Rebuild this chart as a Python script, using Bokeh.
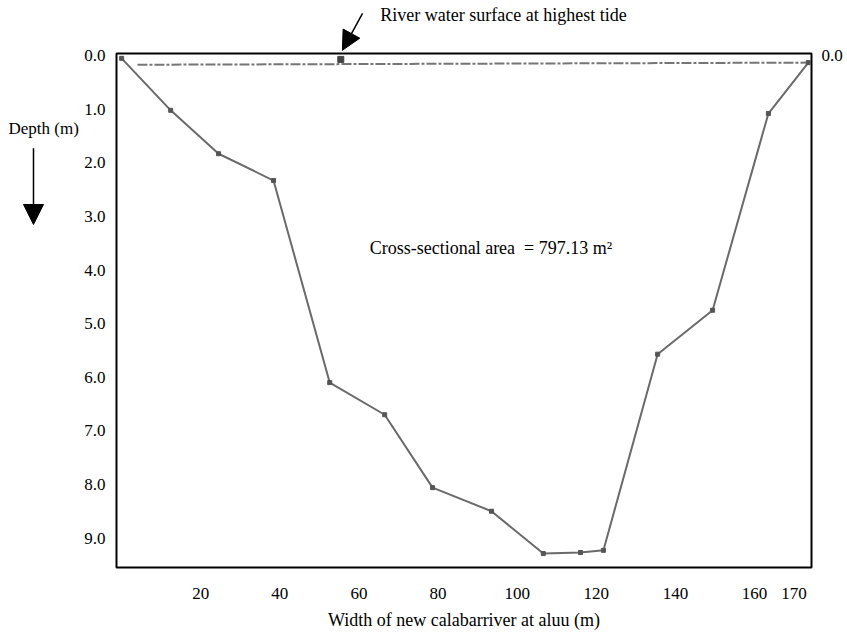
from bokeh.plotting import figure
from bokeh.layouts import row
from bokeh.models import (Range1d, LinearAxis, FixedTicker, Label, Arrow,
                          NormalHead, PrintfTickFormatter, ColumnDataSource)
from bokeh.embed import file_html
from bokeh.resources import INLINE

# ---- data ----
width_m = [0.0, 12.4, 24.5, 38.4, 52.6, 66.5, 78.6, 93.5, 106.6, 116.0, 121.8, 135.5, 149.4, 163.5, 173.6]
depth_m = [0.05, 1.02, 1.83, 2.33, 6.10, 6.70, 8.06, 8.50, 9.29, 9.27, 9.23, 5.57, 4.75, 1.08, 0.13]

surface_width = [4.0, 173.6]
surface_depth = [0.17, 0.13]

gauge_width = [55.4]
gauge_depth = [0.07]

x_ticks = [20, 40, 60, 80, 100, 120, 140, 160, 170]
y_ticks = [0, 1, 2, 3, 4, 5, 6, 7, 8, 9]
right_ticks = [0]

area_text = "Cross-sectional area\u00a0 = 797.13 m\u00b2"
tide_text = "River water surface at highest tide"
depth_text = "Depth (m)"
x_title = "Width of new calabarriver at aluu (m)"

# chart box (axis extent) in data units
BOX_X = (-1.3, 174.4)
BOX_D = (9.55, -0.04)

FONT = "Liberation Serif"

depth_range = Range1d(9.606, -1.029)

# ---------------- main figure ----------------
p = figure(width=768, height=633, output_backend="svg", toolbar_location=None,
           title=None,
           x_range=Range1d(-2.058, 175.158), y_range=depth_range,
           min_border_left=34, min_border_right=33, min_border_top=0,
           min_border_bottom=63)
p.background_fill_color = "white"
p.border_fill_color = "white"
p.outline_line_color = None
p.grid.visible = False

xa = p.xaxis[0]
xa.ticker = FixedTicker(ticks=x_ticks)
xa.axis_line_color = None
xa.major_tick_line_color = None
xa.minor_tick_line_color = None
xa.major_label_standoff = 11
xa.major_label_text_font = FONT
xa.major_label_text_font_size = "17px"
xa.major_label_text_color = "black"
xa.axis_label = x_title
xa.axis_label_text_font = FONT
xa.axis_label_text_font_size = "18px"
xa.axis_label_text_font_style = "normal"
xa.axis_label_text_color = "black"
xa.axis_label_standoff = 8

ya = p.yaxis[0]
ya.ticker = FixedTicker(ticks=y_ticks)
ya.formatter = PrintfTickFormatter(format="%.1f")
ya.axis_line_color = None
ya.major_tick_line_color = None
ya.minor_tick_line_color = None
ya.major_label_standoff = 2
ya.major_label_text_font = FONT
ya.major_label_text_font_size = "17px"
ya.major_label_text_color = "black"

ra = LinearAxis(ticker=FixedTicker(ticks=right_ticks),
                formatter=PrintfTickFormatter(format="%.1f"),
                axis_line_color=None, major_tick_line_color=None,
                minor_tick_line_color=None, major_label_standoff=1,
                major_label_text_font=FONT, major_label_text_font_size="17px",
                major_label_text_color="black")
p.add_layout(ra, "right")

# chart box
p.quad(left=[BOX_X[0]], right=[BOX_X[1]], bottom=[BOX_D[0]], top=[BOX_D[1]],
       fill_color=None, line_color="black", line_width=2)

# water surface at highest tide (dash-dot)
p.line(surface_width, surface_depth, line_color="#757575", line_width=2,
       line_dash="10 2 3 2")
p.scatter(gauge_width, gauge_depth, marker="square", size=6, color="#444444")

# river bed profile
src = ColumnDataSource(dict(x=width_m, y=depth_m))
p.line("x", "y", source=src, line_color="#6a6a6a", line_width=2)
p.scatter("x", "y", source=src, marker="square", size=4, color="#555555")

p.add_layout(Label(x=62.7, y=3.58, text=area_text, text_font=FONT,
                   text_font_size="18px", text_baseline="middle",
                   text_align="left", text_color="black"))
p.add_layout(Label(x=65.4, y=-0.75, text=tide_text, text_font=FONT,
                   text_font_size="18px", text_baseline="middle",
                   text_align="left", text_color="black"))
p.add_layout(Arrow(x_start=60.9, y_start=-0.79, x_end=55.8, y_end=-0.10,
                   line_color="black", line_width=1.5,
                   end=NormalHead(size=19, fill_color="black", line_color="black")))

# ---------------- left strip (depth caption) ----------------
left = figure(width=79, height=633, output_backend="svg", toolbar_location=None,
              title=None, x_axis_type=None, y_axis_type=None,
              x_range=Range1d(-30.62, -10.65), y_range=depth_range,
              min_border=0, min_border_left=0, min_border_right=0,
              min_border_top=0, min_border_bottom=0)
left.outline_line_color = None
left.background_fill_color = "white"
left.border_fill_color = "white"
left.add_layout(Label(x=-28.6, y=1.36, text=depth_text, text_font=FONT,
                      text_font_size="17px", text_baseline="middle",
                      text_align="left", text_color="black"))
left.add_layout(Arrow(x_start=-22.28, y_start=1.73, x_end=-22.28, y_end=3.15,
                      line_color="black", line_width=1.5,
                      end=NormalHead(size=20, fill_color="black", line_color="black")))

layout = row(left, p)
open("out.html", "w").write(file_html(layout, INLINE))
